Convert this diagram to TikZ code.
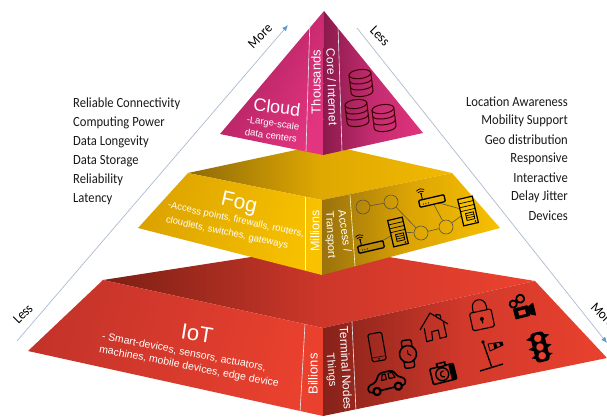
\documentclass[tikz,border=0pt]{standalone}
\usepackage{fontspec}
\setmainfont{Liberation Sans}
\newfontfamily\listfont[FakeStretch=0.9]{Carlito}
\usetikzlibrary{arrows.meta}
\definecolor{axisline}{HTML}{AEBBCF}
\definecolor{axistip}{HTML}{5B9BD5}
\definecolor{pkA}{HTML}{A81F5E}\definecolor{pkB}{HTML}{E3347F}
\definecolor{pkC}{HTML}{8A1A4C}\definecolor{pkD}{HTML}{E0337E}\definecolor{pkM}{HTML}{C42C70}
\definecolor{ylA}{HTML}{DCA300}\definecolor{ylB}{HTML}{F8C200}
\definecolor{ylC}{HTML}{9A720C}\definecolor{ylD}{HTML}{F7C000}\definecolor{ylM}{HTML}{DDA504}
\definecolor{ylE}{HTML}{8E6A08}\definecolor{ylF}{HTML}{F2B900}\definecolor{ylN}{HTML}{DFA802}
\definecolor{rdA}{HTML}{C4332A}\definecolor{rdB}{HTML}{EA412E}
\definecolor{rdC}{HTML}{86221A}\definecolor{rdD}{HTML}{EA412E}\definecolor{rdM}{HTML}{D2392B}
\definecolor{rdE}{HTML}{7C1F14}\definecolor{rdF}{HTML}{EC422F}\definecolor{rdN}{HTML}{CC372A}
\tikzset{
  wtxt/.style={text=white,inner sep=0pt,font=\fontsize{#1}{#1}\selectfont,align=center},
  list/.style={inner sep=0pt,font=\listfont\fontsize{14}{14}\selectfont,text=black!90},
  axis/.style={draw=axisline,line width=0.7pt},
  axlabel/.style={inner sep=0pt,font=\listfont\fontsize{14}{14}\selectfont},
  divider/.style={draw=white!85!gray,line width=0.6pt},
  db/.style={draw=black!75!red,line width=1pt},
  neticon/.style={draw=black,line width=1pt},
  netlink/.style={draw=black!75!yellow,line width=0.6pt},
  netc/.style={circle,draw=black!75!yellow,line width=0.6pt,minimum size=14pt,inner sep=0pt},
  ico/.style={draw=black,line width=1.1pt,line join=round},
}
\newcommand{\dbicon}[3]{\begin{scope}[shift={(#1,#2)},rotate=#3]
  \draw[db] (-11,-9) -- (-11,9) .. controls (-11,15) and (11,15) .. (11,9) -- (11,-9);
  \draw[db] (0,-9) ellipse (11 and 4.5);
  \draw[db] (-11,-3) .. controls (-11,2) and (11,2) .. (11,-3);
  \draw[db] (-11,3) .. controls (-11,8) and (11,8) .. (11,3);
\end{scope}}
\newcommand{\routericon}[4]{\begin{scope}[shift={(#1,#2)},rotate=#3]
  \draw[neticon,fill=#4,rounded corners=1pt,line width=1.3pt] (-13,-3.5) rectangle (13,3.5);
  \foreach \px in {-9,-6.5,-4}{\fill (\px,1) circle (0.6);}
  \draw[neticon,line width=.9pt] (-9,-3.5) -- (-9,-9);
  \draw[neticon,line width=.7pt] (-13,-13) .. controls (-10,-15) and (-7,-15) .. (-5,-13);
  \draw[neticon,line width=.7pt] (-12,-11) .. controls (-10,-12.5) and (-8,-12.5) .. (-6,-11);
  \fill (-9,-9.5) circle (1.1);
\end{scope}}
\newcommand{\servericon}[4]{\begin{scope}[shift={(#1,#2)},rotate=#3]
  \draw[neticon,fill=#4,line width=1.2pt] (-7.5,-13.5) rectangle (7.5,13.5);
  \foreach \py in {-9,-5,-1}{\draw[neticon,line width=.7pt] (-7.5,\py) -- (7.5,\py);}
  \draw[neticon,line width=.8pt] (-3,2) rectangle (5,9);
  \draw[neticon,line width=.6pt] (-3,4.3) -- (5,4.3) (-3,6.6) -- (5,6.6);
  \fill (5,11.5) circle (0.9);
\end{scope}}
\begin{document}
\begin{tikzpicture}[x=1pt,y=-1pt]
\useasboundingbox (0,0) rectangle (607,416);
\clip (0,0) rectangle (607,416);
\fill[white] (0,0) rectangle (607,416);
% axes
\coordinate (la) at (17,341);
\coordinate (lb) at (288,25);
\coordinate (ra) at (357,28);
\coordinate (rb) at (607,343);
\draw[axis,-{Latex[length=6pt,width=5pt,color=axistip]}] (la) -- (lb);
\draw[axis,-{Latex[length=6pt,width=5pt,color=axistip]}] (ra) -- (rb);
\node[axlabel,rotate=45] (more1) at (260,36) {More};
\node[axlabel,rotate=-45] (less1) at (380,36) {Less};
\node[axlabel,rotate=45] (less2) at (23,314) {Less};
\node[axlabel,rotate=-45,anchor=west] (more2) at (593,305) {More};
% IoT
\shade[left color=rdE,right color=rdF,middle color=rdN] (103,280) -- (322,246) -- (535,281) -- (323,328) -- cycle;
\shade[left color=rdA,right color=rdB,shading angle=75] (103,280) -- (323,328) -- (323,416) -- (28,351) -- cycle;
\shade[left color=rdC,right color=rdD,middle color=rdM] (323,328) -- (535,281) -- (607,358) -- (323,416) -- cycle;
\draw[divider] (305,324) -- (300,413);
\draw[divider] (352,322) -- (356,412);
% Fog
\shade[left color=ylE,right color=ylF,middle color=ylN] (188,173) -- (324,144) -- (452,173) -- (322,200) -- cycle;
\shade[left color=ylA,right color=ylB,shading angle=75] (188,173) -- (322,200) -- (322,275) -- (138,228) -- cycle;
\shade[left color=ylC,right color=ylD,middle color=ylM] (322,200) -- (452,173) -- (500,228) -- (322,275) -- cycle;
\draw[divider,draw=white!75!yellow] (305,197) -- (305,270);
\draw[divider,draw=white!75!yellow] (350,195) -- (355,266);
% Cloud
\shade[left color=pkA,right color=pkB,shading angle=60] (324,11) -- (323,155) -- (220,134) -- cycle;
\shade[left color=pkC,right color=pkD,middle color=pkM] (324,11) -- (423,133) -- (323,155) -- cycle;
\draw[divider] (310,18) -- (306,151);
\draw[divider] (338,26) -- (342,151);
% lists
\foreach \t [count=\i] in {Reliable Connectivity,Computing Power,Data Longevity,Data Storage,Reliability,Latency}
  \node[list,anchor=west] (l\i) at (73,{85+19*\i}) {\t};
\foreach \t [count=\i] in {Location Awareness,Mobility Support,Geo distribution,Responsive,Interactive,Delay Jitter,Devices}
  \node[list,anchor=east] (r\i) at (568,{83+19*\i}) {\t};
% cloud text
\node[wtxt=18,rotate=-7] (cloud) at (277,107) {Cloud};
\node[wtxt=9.5,rotate=-8] (cl1) at (273,124) {-Large-scale};
\node[wtxt=9.5,rotate=-8] (cl2) at (271,135.5) {data centers};
\node[wtxt=13,rotate=90] (thou) at (316,82) {Thousands};
\node[wtxt=12,rotate=-88] (core) at (332,87) {Core / Internet};
\dbicon{361}{83}{7}
\dbicon{357}{113}{7}
\dbicon{384}{118}{7}
% fog text
\node[wtxt=21,rotate=-13] (fog) at (239,204) {Fog};
\node[wtxt=9.5,rotate=-12] (fg1) at (236,220) {-Access points, firewalls, routers,};
\node[wtxt=9.5,rotate=-12] (fg2) at (227,233) {cloudlets, switches, gateways};
\node[wtxt=12.5,rotate=90] (mill) at (315,231) {Millions};
\node[wtxt=11,rotate=-82] (acc) at (345,231) {Access /};
\node[wtxt=11,rotate=-87] (trans) at (330,235) {Transport};
% network
\node[netc] (n1) at (363,207) {};
\node[netc] (n2) at (391,202) {};
\node[netc] (n3) at (421,233) {};
\node[netc] (n4) at (446,227) {};
\coordinate (rt1) at (432,201);
\coordinate (rt2) at (371,247);
\coordinate (sv1) at (468,211);
\coordinate (sv2) at (398,232);
\draw[netlink] (n1) -- (n2);
\draw[netlink] (n2) -- (n3);
\draw[netlink] (n3) -- (n4);
\draw[netlink] (n4) -- (rt1);
\draw[netlink] (n4) -- (sv1);
\draw[netlink] (rt1) -- (sv1);
\draw[netlink] (rt2) -- (sv2);
\draw[netlink] (sv2) -- (n3);
\routericon{432}{201}{13}{ylM!60!ylD}
\routericon{371}{247}{13}{ylC!50!ylM}
\servericon{468}{211}{13}{ylD}
\servericon{398}{232}{13}{ylM!80!ylC}
% IoT text
\node[wtxt=22,rotate=-9] (iot) at (197,334) {IoT};
\node[wtxt=10.4,rotate=-11] (it1) at (184,352) {- Smart-devices, sensors, actuators,};
\node[wtxt=10.5,rotate=-11] (it2) at (189,367) {machines, mobile devices, edge device};
\node[wtxt=13,rotate=90] (bill) at (313,374) {Billions};
\node[wtxt=11,rotate=-85] (thin) at (331,370) {Things};
\node[wtxt=12,rotate=-87] (term) at (346,368) {Terminal Nodes};
% IoT icons
\begin{scope}[shift={(377,347)},rotate=10]
  \draw[ico,rounded corners=1.5pt] (-7,-14) rectangle (7,14);
  \draw[ico,line width=.5pt] (-7,10) -- (7,10);
  \fill (0,12) circle (.9);
\end{scope}
\begin{scope}[shift={(408,354)},rotate=8]
  \draw[ico,rounded corners=2pt,line width=1.4pt] (-5,-14) rectangle (5,14);
  \draw[ico,fill=rdM!85!black,line width=1.6pt] (0,0) circle (8.5);
  \draw[ico,line width=.9pt] (0,-4) -- (0,0) -- (3,2);
\end{scope}
\begin{scope}[shift={(433,328)}]
  \draw[ico] (-13,2) -- (-3,-15) -- (15,-4) (3,-11.3) -- (3,-13.5) -- (7,-13) -- (8,-9.7);
  \draw[ico] (-8.7,0.3) -- (-6.3,13.7) -- (-0.3,12) -- (-1.3,3.7) -- (5.3,2) -- (7,10.3) -- (13.7,8.7) -- (10.3,-6.3);
\end{scope}
\begin{scope}[shift={(481,315)},rotate=12]
  \draw[ico,rounded corners=1.5pt] (-11,-4) rectangle (11,14);
  \draw[ico] (-7,-4) -- (-7,-8) .. controls (-7,-18) and (7,-18) .. (7,-8) -- (7,-4);
  \fill (0,4) circle (2);
  \draw[ico,line width=1.2pt] (0,4) -- (0,8.5);
\end{scope}
\begin{scope}[shift={(522,306)},rotate=14]
  \draw[ico,fill=black] (-9,1) rectangle (5,11);
  \fill[rdD] (-5,4) rectangle (2,8.5);
  \draw[ico,fill=black] (5,3) -- (11,0) -- (11,12) -- (5,9) -- cycle;
  \draw[ico,line width=1.8pt] (-8,-4) circle (3.6);
  \draw[ico,line width=1.8pt] (0,-7.5) circle (4);
\end{scope}
\begin{scope}[shift={(540,347)},rotate=14]
  \fill[black] (-12,-10) -- (-6,-7) -- (-6,-12) -- cycle (12,-10) -- (6,-7) -- (6,-12) -- cycle
    (-12,0) -- (-6,3) -- (-6,-2) -- cycle (12,0) -- (6,3) -- (6,-2) -- cycle
    (-11,9) -- (-6,11) -- (-6,7) -- cycle (11,9) -- (6,11) -- (6,7) -- cycle;
  \draw[ico,fill=black,rounded corners=3pt] (-6.5,-14.5) rectangle (6.5,14.5);
  \fill[rdD] (0,-9) circle (3.8) (0,0) circle (3.8) (0,9) circle (3.8);
\end{scope}
\begin{scope}[shift={(492,355)}]
  \draw[ico,line width=1.3pt] (-9,-13) -- (0,13);
  \fill (-9,-13) circle (1.8);
  \draw[ico,line width=1.4pt] (-12,16) -- (11,9);
  \draw[ico,line width=.9pt] (-4,-11) -- (10,-13) -- (11,-10) -- (-2,-4) -- cycle;
  \fill (1,-11.7) -- (4,-12.1) -- (5.5,-7.5) -- (2.5,-6.1) -- cycle;
  \fill (7,-12.6) -- (10,-13) -- (11,-10) -- (8.5,-8.8) -- cycle;
\end{scope}
\begin{scope}[shift={(443,373)},rotate=14]
  \draw[ico,line width=1.6pt,rounded corners=1pt] (-12,-7) rectangle (12,9);
  \fill[black] (-5,-11) rectangle (5,-6);
  \fill[rdD!80!black] (-3,-9.5) rectangle (3,-7.5);
  \draw[ico,line width=1.4pt,fill=rdD!80!black] (-1,1) circle (6.5);
  \draw[ico,line width=1.2pt] (1,-2) .. controls (-4,-3) and (-4,5) .. (1,4);
  \fill (7,-6) rectangle (12,9);
\end{scope}
\begin{scope}[shift={(386,382)},rotate=14]
  \draw[ico,line width=1.7pt,rounded corners=3pt] (-19,7) -- (-19,0) -- (-10,-2) -- (-5,-10) -- (9,-10) -- (13,-2) -- (19,0) -- (19,7) -- cycle;
  \draw[ico,line width=1.1pt] (-4,-2.5) -- (-2,-8) -- (1,-8) -- (1,-2.5) -- cycle (4,-2.5) -- (4,-8) -- (8,-8) -- (10,-2.5) -- cycle;
  \draw[ico,line width=2.2pt,fill=rdM!80!black] (-11,7) circle (3.6);
  \draw[ico,line width=2.2pt,fill=rdM!80!black] (11,7) circle (3.6);
\end{scope}
\end{tikzpicture}
\end{document}
